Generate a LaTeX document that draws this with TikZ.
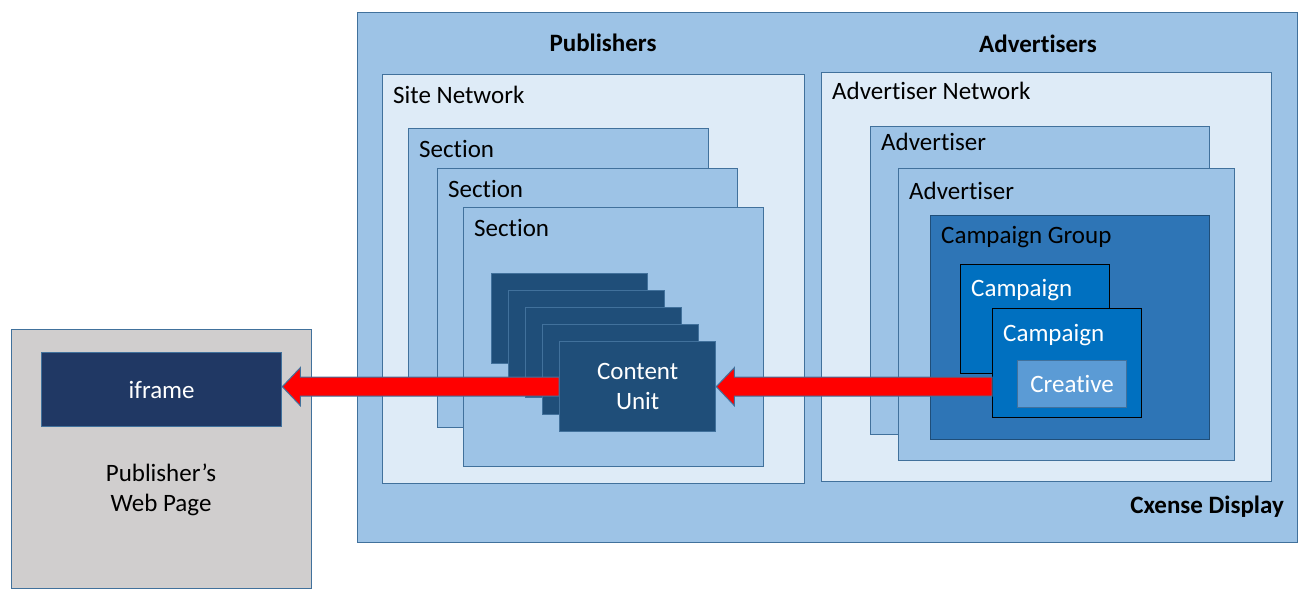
\documentclass[tikz,border=0pt]{standalone}
\usepackage{fontspec}
\setmainfont[Ligatures={NoCommon}]{Carlito}

\definecolor{paleblue}{HTML}{DEEBF7}
\definecolor{midblue}{HTML}{9DC3E6}
\definecolor{edgeblue}{HTML}{41719C}
\definecolor{navy}{HTML}{203864}
\definecolor{deepblue}{HTML}{1F4E79}
\definecolor{groupblue}{HTML}{2E75B6}
\definecolor{campblue}{HTML}{0070C0}
\definecolor{lightblue}{HTML}{5B9BD5}
\definecolor{pagegray}{HTML}{D0CECE}

\begin{document}
\begin{tikzpicture}[x=1pt, y=-1pt, inner sep=0pt,
		font=\fontsize{25}{30}\selectfont,
		box/.style={draw=edgeblue, line width=1.3pt, anchor=north west},
		netbox/.style={box, fill=paleblue},
		secbox/.style={box, fill=midblue, minimum width=300, minimum height=259},
		unitbox/.style={box, fill=deepblue, minimum width=156, minimum height=90},
		campbox/.style={box, draw=black, fill=campblue, minimum width=149, minimum height=109},
		boxlabel/.style={anchor=base west},
		title/.style={font=\fontsize{25}{30}\selectfont\bfseries},
		redarrow/.style={fill=red, draw=edgeblue, line width=1pt}]

		\useasboundingbox (0,0) rectangle (1313,599);

		% publisher's page
		\node[box, fill=pagegray, minimum width=300, minimum height=259] (page) at (11,329) {};
		\node[box, fill=navy, text=white, minimum width=240, minimum height=74] (iframe) at (41,352) {iframe};
		\node[align=center] (pagename) at (161,490) {Publisher’s\\Web Page};

		% cxense display
		\node[box, fill=midblue, minimum width=940, minimum height=530] (cxense) at (357,12) {};
		\node[title, anchor=base] (pubtitle) at (603,52) {Publishers};
		\node[title, anchor=base] (advtitle) at (1038,53) {Advertisers};
		\node[title, anchor=base east] (cxname) at (1284,513) {Cxense Display};

		% publishers side
		\node[netbox, minimum width=422, minimum height=409] (site) at (382,74) {};
		\node[boxlabel] (sitename) at ([xshift=11,yshift=-29]site.north west) {Site Network};

		\foreach \x/\y [count=\i] in {408/128, 437/168, 463/207}
		{
			\node[secbox] (sec\i) at (\x,\y) {};
			\node[boxlabel] (secname\i) at ([xshift=11,yshift=-29]sec\i.north west) {Section};
		}

		\foreach \k in {0,...,3}
		{
			\node[unitbox] (stack\k) at (491+17*\k, 273+17*\k) {};
		}
		\node[unitbox, align=center, text=white] (unit) at (559,341) {Content\\Unit};

		% advertisers side
		\node[netbox, minimum width=450, minimum height=409] (advnet) at (821,72) {};
		\node[boxlabel] (advnetname) at ([xshift=11,yshift=-28]advnet.north west) {Advertiser Network};

		\node[box, fill=midblue, minimum width=339, minimum height=308] (adv1) at (870,126) {};
		\node[boxlabel] (advname1) at ([xshift=11,yshift=-24]adv1.north west) {Advertiser};
		\node[box, fill=midblue, minimum width=336, minimum height=292] (adv2) at (898,168) {};
		\node[boxlabel] (advname2) at ([xshift=11,yshift=-31]adv2.north west) {Advertiser};

		\node[box, draw=deepblue, fill=groupblue, minimum width=279, minimum height=224] (group) at (930,215) {};
		\node[boxlabel] (groupname) at ([xshift=11,yshift=-28]group.north west) {Campaign Group};

		\node[campbox] (camp1) at (960,264) {};
		\node[boxlabel, text=white] (campname1) at ([xshift=11,yshift=-32]camp1.north west) {Campaign};
		\node[campbox] (camp2) at (992,308) {};
		\node[boxlabel, text=white] (campname2) at ([xshift=11,yshift=-33]camp2.north west) {Campaign};

		\node[box, fill=lightblue, text=white, minimum width=109, minimum height=47] (creative) at (1017,360) {Creative};

		% arrows
		\coordinate (tipA) at (iframe.east |- unit.west);
		\coordinate (srcB) at (camp2.west |- unit.east);

		\draw[redarrow] ([yshift=9.5]unit.west) -- ([xshift=18,yshift=9.5]tipA)
			-- ([xshift=18,yshift=19]tipA) -- (tipA) -- ([xshift=18,yshift=-19]tipA)
			-- ([xshift=18,yshift=-9.5]tipA) -- ([yshift=-9.5]unit.west) -- cycle;

		\draw[redarrow] ([yshift=9.5]srcB) -- ([xshift=18,yshift=9.5]unit.east)
			-- ([xshift=18,yshift=19]unit.east) -- (unit.east) -- ([xshift=18,yshift=-19]unit.east)
			-- ([xshift=18,yshift=-9.5]unit.east) -- ([yshift=-9.5]srcB) -- cycle;

		\end{tikzpicture}
\end{document}
